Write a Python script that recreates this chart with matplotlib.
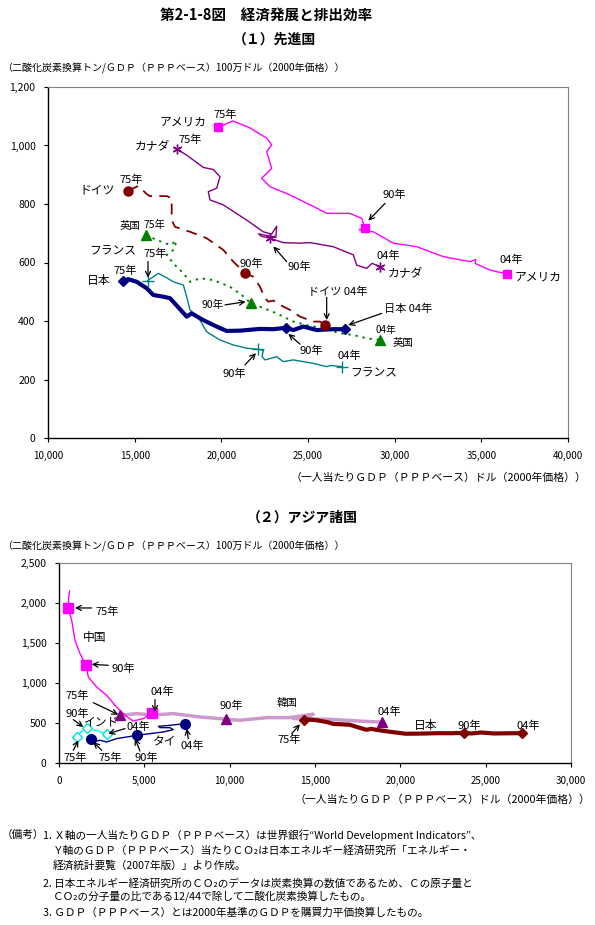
import numpy as np
import matplotlib
matplotlib.use("Agg")
import matplotlib.pyplot as plt

plt.rcParams['font.family'] = ['Noto Sans CJK JP', 'DejaVu Sans']

W, H = 595, 925

# ---- (1) developed countries: per-capita GDP (x) vs CO2/GDP (y) ----
usa_x = [19825, 20673, 21654, 22617, 22906, 22617, 22906, 22328, 22807, 23961, 25501, 26078,
         27405, 28098, 28288, 27950, 28767, 29921, 31271, 32806, 34346, 34680, 34650, 35500, 36462]
usa_y = [1062, 1084, 1060, 1025, 1002, 979, 922, 888, 859, 831, 786, 768,
         768, 751, 717, 712, 705, 666, 654, 620, 603, 610, 597, 574, 561]
usa_key = [0, 14, 24]

can_x = [17425, 18002, 18960, 19537, 19922, 19730, 19248, 19346, 20113, 21460, 22421, 22900,
         23190, 23150, 22150, 22300, 22807, 23575, 24538, 25115, 26460, 27613, 27807, 28384, 28700, 29154]
can_y = [988, 967, 925, 918, 893, 854, 842, 814, 797, 745, 705, 697,
         724, 686, 698, 690, 683, 668, 666, 668, 654, 626, 591, 580, 597, 586]
can_key = [0, 16, 25]

ger_x = [14633, 15210, 15694, 15884, 16848, 17136, 17136, 17326, 18192, 19153, 20113, 20690,
         21340, 21845, 22230, 22518, 22710, 23000, 23385, 23961, 24538, 25306, 25691, 25980]
ger_y = [845, 862, 834, 827, 827, 819, 745, 722, 705, 683, 643, 603,
         565, 551, 517, 478, 466, 470, 455, 438, 415, 398, 398, 386]
ger_key = [0, 12, 23]

uk_x = [15653, 16271, 17038, 17422, 17231, 16848, 17231, 17807, 18192, 18769, 19537, 20500,
        21175, 21720, 22230, 23194, 24152, 24922, 25884, 26846, 27613, 28384, 29154]
uk_y = [694, 677, 660, 674, 643, 626, 597, 563, 534, 546, 540, 517,
        489, 460, 449, 426, 398, 386, 375, 358, 352, 341, 335]
uk_key = [0, 13, 22]

fra_x = [15749, 16075, 16364, 16750, 17231, 17807, 18002, 18192, 18576, 18769, 19153, 19922,
         20690, 21460, 22132, 22420, 22350, 22518, 23194, 23575, 24152, 25306, 26078, 26300, 26943]
fra_y = [538, 551, 563, 551, 534, 523, 483, 438, 415, 403, 363, 335,
         318, 307, 303, 300, 278, 267, 278, 261, 267, 255, 244, 248, 244]
fra_key = [0, 14, 24]

jpn_x = [14345, 14633, 15117, 15694, 16075, 16652, 17038, 18002, 18290, 18960, 19730, 20307,
         21076, 22230, 22999, 23730, 24152, 24730, 25499, 26461, 27134]
jpn_y = [538, 543, 534, 512, 489, 483, 478, 415, 426, 403, 381, 366,
         367, 373, 372, 377, 369, 381, 369, 372, 372]
jpn_key = [0, 15, 20]

# ---- (2) Asian countries ----
chn_x = [620, 560, 546, 742, 937, 1230, 1582, 1719, 2208, 2794, 3281, 3867, 4353, 4939, 5431]
chn_y = [2150, 2050, 1938, 1784, 1534, 1367, 1221, 1075, 950, 846, 721, 596, 525, 555, 625]
chn_key = [2, 6, 14]

kor_x = [3574, 4552, 5500, 6697, 8261, 9433, 9785, 10605, 12170, 13517, 14899, 13727, 15878, 17829, 18906]
kor_y = [596, 617, 600, 617, 575, 555, 547, 534, 567, 567, 609, 555, 546, 521, 512]
kor_key = [0, 6, 14]

ind_x = [1037, 1072, 1250, 1424, 1623, 1900, 2209, 2500, 2795]
ind_y = [300, 325, 380, 409, 435, 420, 405, 385, 365]
ind_key = [1, 4, 8]

tha_x = [1857, 2109, 2402, 2795, 3381, 3967, 4552, 5332, 6111, 6697, 6500, 5917, 5820, 6500, 7382]
tha_y = [296, 271, 284, 263, 305, 325, 346, 367, 388, 417, 442, 442, 459, 471, 492]
tha_key = [0, 6, 14]

x1_ticks = [10000, 15000, 20000, 25000, 30000, 35000, 40000]
y1_ticks = [0, 200, 400, 600, 800, 1000, 1200]
x2_ticks = [0, 5000, 10000, 15000, 20000, 25000, 30000]
y2_ticks = [0, 500, 1000, 1500, 2000, 2500]

ylab = '（二酸化炭素換算トン/ＧＤＰ（ＰＰＰベース）100万ドル（2000年価格））'
xlab = '（一人当たりＧＤＰ（ＰＰＰベース）ドル（2000年価格））'

notes = [
    (43, 835, '1. Ｘ軸の一人当たりＧＤＰ（ＰＰＰベース）は世界銀行“World Development Indicators”、'),
    (53, 851, 'Ｙ軸のＧＤＰ（ＰＰＰベース）当たりＣＯ₂は日本エネルギー経済研究所「エネルギー・'),
    (53, 866, '経済統計要覧（2007年版）」より作成。'),
    (43, 883, '2. 日本エネルギー経済研究所のＣＯ₂のデータは炭素換算の数値であるため、Ｃの原子量と'),
    (53, 897, 'ＣＯ₂の分子量の比である12/44で除して二酸化炭素換算したもの。'),
    (43, 913, '3. ＧＤＰ（ＰＰＰベース）とは2000年基準のＧＤＰを購買力平価換算したもの。'),
]


def fpos(x, y):
    return x / W, 1 - y / H


def series(ax, xs, ys, key, color, lw, ls='-', marker='o', ms=6, mfc=None, mec=None, mew=1.0, z=3):
    ax.plot(xs, ys, color=color, lw=lw, ls=ls, zorder=z)
    kx = [xs[i] for i in key]
    ky = [ys[i] for i in key]
    ax.plot(kx, ky, ls='none', marker=marker, ms=ms, mfc=mfc or color, mec=mec or color,
            mew=mew, zorder=z + 1)


def arrow(ax, tail, head):
    ax.annotate('', xy=head, xytext=tail,
                arrowprops=dict(arrowstyle='->', color='black', lw=0.9, mutation_scale=9,
                                shrinkA=0, shrinkB=0), zorder=6)


def style_axes(ax, xt, yt):
    for s in ['top', 'right']:
        ax.spines[s].set_color('#808080')
        ax.spines[s].set_linewidth(0.8)
    for s in ['left', 'bottom']:
        ax.spines[s].set_color('black')
        ax.spines[s].set_linewidth(1.0)
    ax.set_xticks(xt)
    ax.set_yticks(yt)
    ax.set_xticklabels([f'{v:,}' for v in xt], fontsize=7)
    ax.set_yticklabels([f'{v:,}' for v in yt], fontsize=7.5)
    ax.tick_params(axis='x', length=3, pad=6)
    ax.tick_params(axis='y', length=3, pad=6)


fig = plt.figure(figsize=(W / 100, H / 100), dpi=100)

fig.text(*fpos(160, 16), '第2-1-8図　経済発展と排出効率', fontsize=10.5, weight='bold', va='center')
fig.text(*fpos(233, 40), '（１）先進国', fontsize=10, weight='bold', va='center')
fig.text(*fpos(247, 518), '（２）アジア諸国', fontsize=10, weight='bold', va='center')
fig.text(*fpos(2, 68), ylab, fontsize=7.2, va='center')
fig.text(*fpos(2, 546), ylab, fontsize=7.2, va='center')
fig.text(*fpos(586, 478), xlab, fontsize=7.8, va='center', ha='right')
fig.text(*fpos(590, 800), xlab, fontsize=7.8, va='center', ha='right')

# ---------------- chart 1 ----------------
ax1 = fig.add_axes([48 / W, 1 - 438 / H, 520 / W, 351 / H])
ax1.set_xlim(10000, 40000)
ax1.set_ylim(0, 1200)
style_axes(ax1, x1_ticks, y1_ticks)

series(ax1, usa_x, usa_y, usa_key, '#FF00FF', 1.0, marker='s', ms=6)
series(ax1, can_x, can_y, can_key, '#800080', 1.0, marker=(6, 2, 0), ms=7, mew=1.0)
series(ax1, ger_x, ger_y, ger_key, '#800000', 1.3, ls=(0, (6, 4)), marker='o', ms=6.5)
series(ax1, uk_x, uk_y, uk_key, '#008000', 1.4, ls=(0, (1.2, 2.5)), marker='^', ms=6.5)
series(ax1, fra_x, fra_y, fra_key, '#008080', 1.0, marker='+', ms=8, mew=1.0)
series(ax1, jpn_x, jpn_y, jpn_key, '#000080', 3.0, marker='D', ms=5)

labels1 = [
    ('アメリカ', 19156, 1081, 'right', 8.5), ('75年', 20211, 1104, 'center', 8),
    ('カナダ', 17038, 996, 'right', 8.5), ('75年', 18192, 1021, 'center', 8),
    ('ドイツ', 13865, 848, 'right', 8.5), ('75年', 14826, 882, 'center', 8),
    ('英国', 15308, 726, 'right', 7.5), ('75年', 16145, 728, 'center', 7.5),
    ('フランス', 15117, 640, 'right', 8.5), ('75年', 16190, 629, 'center', 8),
    ('日本', 13577, 540, 'right', 8.5), ('75年', 14424, 572, 'center', 8),
    ('90年', 21730, 595, 'center', 8), ('90年', 24490, 586, 'center', 8),
    ('90年', 19490, 455, 'center', 7.5), ('90年', 20730, 219, 'center', 8),
    ('90年', 29961, 833, 'center', 8), ('04年', 29633, 622, 'center', 8),
    ('カナダ', 29575, 561, 'left', 8.5), ('04年', 36751, 608, 'center', 8),
    ('アメリカ', 36942, 549, 'left', 8.5), ('ドイツ 04年', 26712, 500, 'center', 8),
    ('日本 04年', 30751, 443, 'center', 8), ('04年', 29517, 369, 'center', 7),
    ('英国', 29886, 324, 'left', 7.5), ('90年', 25190, 298, 'center', 8),
    ('04年', 27365, 280, 'center', 8), ('フランス', 27422, 221, 'left', 8.5),
]
for t, x, y, ha, fs in labels1:
    ax1.text(x, y, t, ha=ha, va='center', fontsize=fs, zorder=7)

for tail, head in [((15770, 603), (15770, 548)), ((23770, 603), (23000, 655)),
                   ((20211, 455), (21400, 466)), ((21365, 250), (22000, 290)),
                   ((29442, 802), (28480, 743)), ((26077, 481), (26077, 403)),
                   ((29250, 426), (27326, 386)), ((24538, 321), (23863, 356))]:
    arrow(ax1, tail, head)

# ---------------- chart 2 ----------------
ax2 = fig.add_axes([59 / W, 1 - 763 / H, 512 / W, 200 / H])
ax2.set_xlim(0, 30000)
ax2.set_ylim(0, 2500)
style_axes(ax2, x2_ticks, y2_ticks)

series(ax2, kor_x, kor_y, kor_key, '#CC99CC', 2.5, marker='^', ms=7, mfc='#800080', mec='#800080')
series(ax2, chn_x, chn_y, chn_key, '#FF00FF', 1.0, marker='s', ms=7)
series(ax2, ind_x, ind_y, ind_key, '#00FFFF', 1.0, marker='D', ms=5, mfc='white', mec='#00E0E0')
series(ax2, tha_x, tha_y, tha_key, '#000080', 1.0, marker='o', ms=7)
series(ax2, jpn_x, jpn_y, jpn_key, '#800000', 3.0, marker='D', ms=5)

labels2 = [
    ('75年', 2794, 1888, 'center', 8), ('中国', 2109, 1568, 'center', 8.5),
    ('90年', 3768, 1180, 'center', 8), ('75年', 1037, 834, 'center', 8),
    ('90年', 1084, 617, 'center', 8), ('インド', 2502, 513, 'center', 8.5),
    ('04年', 4629, 450, 'center', 8), ('75年', 937, 67, 'center', 8),
    ('75年', 2988, 67, 'center', 8), ('90年', 5138, 67, 'center', 8),
    ('タイ', 6211, 262, 'center', 8.5), ('04年', 7822, 221, 'center', 8),
    ('04年', 6064, 888, 'center', 8), ('90年', 10118, 721, 'center', 8),
    ('韓国', 13360, 750, 'center', 7.5), ('75年', 13478, 284, 'center', 8),
    ('04年', 19346, 638, 'center', 8), ('日本', 21491, 471, 'center', 8.5),
    ('90年', 24034, 471, 'center', 8), ('04年', 27497, 471, 'center', 8),
]
for t, x, y, ha, fs in labels2:
    ax2.text(x, y, t, ha=ha, va='center', fontsize=fs, zorder=7)

for tail, head in [((1915, 1938), (937, 1938)), ((2888, 1221), (1915, 1234)),
                   ((2010, 754), (3474, 605)), ((838, 542), (1424, 450)),
                   ((3867, 430), (2888, 367)), ((838, 159), (1131, 284)),
                   ((2502, 159), (2010, 262)), ((4745, 150), (4452, 305)),
                   ((7576, 305), (7480, 430)), ((5625, 792), (5625, 638)),
                   ((13634, 367), (14120, 484))]:
    arrow(ax2, tail, head)

# ---------------- notes ----------------
fig.text(*fpos(2, 835), '（備考）', fontsize=7.7, va='center')
for x, y, t in notes:
    fig.text(*fpos(x, y), t, fontsize=7.7, va='center')

fig.savefig('out.png', dpi=100)
